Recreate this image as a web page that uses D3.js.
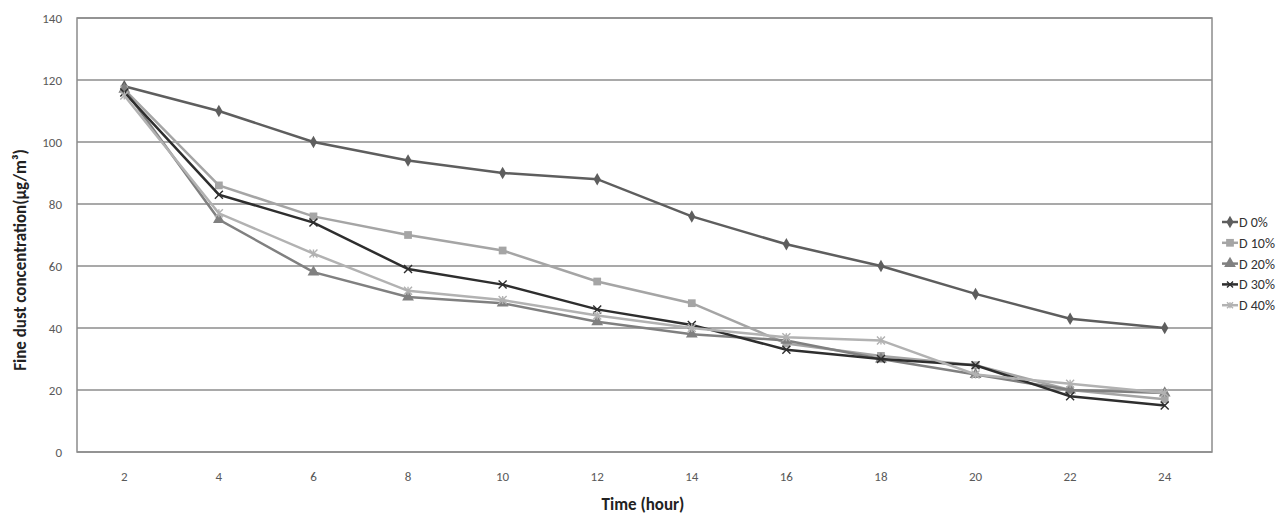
<!DOCTYPE html>
<html>
<head>
<meta charset="utf-8">
<script src="https://cdn.jsdelivr.net/npm/d3@7"></script>
<style>
  body { margin: 0; background: #fff; }
  text { font-family: Calibri, "Liberation Sans", "Open Sans", sans-serif; }
</style>
</head>
<body>
<svg id="chart"></svg>
<script>
// data
var hours = ["2", "4", "6", "8", "10", "12", "14", "16", "18", "20", "22", "24"];
var yTicks = [0, 20, 40, 60, 80, 100, 120, 140];
var seriesNames = ["D 0%", "D 10%", "D 20%", "D 30%", "D 40%"];
var d0 = [118, 110, 100, 94, 90, 88, 76, 67, 60, 51, 43, 40];
var d10 = [117, 86, 76, 70, 65, 55, 48, 35, 31, 28, 20, 17];
var d20 = [117, 75, 58, 50, 48, 42, 38, 36, 30, 25, 20, 19];
var d30 = [116, 83, 74, 59, 54, 46, 41, 33, 30, 28, 18, 15];
var d40 = [115, 77, 64, 52, 49, 44, 40, 37, 36, 25, 22, 19];

var colors = ["#5e5e5e", "#a5a5a5", "#808080", "#2e2e2e", "#b2b2b2"];
var symbols = [d3.symbolDiamond, d3.symbolSquare, d3.symbolTriangle, "x", "star"];
var series = [d0, d10, d20, d30, d40].map(function(v, i) {
    return { name: seriesNames[i], values: v, color: colors[i], symbol: symbols[i] };
});

var chartWidth = 1284, chartHeight = 526;
var plotLeft = 77, plotRight = 1212, plotTop = 18, plotBottom = 452;

var svg = d3.select('#chart')
    .attr('width', chartWidth)
    .attr('height', chartHeight);

var x = d3.scaleBand().domain(hours).range([plotLeft, plotRight]);
var y = d3.scaleLinear().domain([0, 140]).range([plotBottom, plotTop]);

// gridlines
svg.append('g')
    .selectAll('line')
    .data(yTicks)
    .enter().append('line')
    .attr('x1', plotLeft).attr('x2', plotRight)
    .attr('y1', function(d) { return y(d); })
    .attr('y2', function(d) { return y(d); })
    .attr('stroke', '#8c8c8c')
    .attr('stroke-width', 1.5);

// plot frame
svg.append('rect')
    .attr('x', plotLeft).attr('y', plotTop)
    .attr('width', plotRight - plotLeft).attr('height', plotBottom - plotTop)
    .attr('fill', 'none')
    .attr('stroke', '#8c8c8c')
    .attr('stroke-width', 1.5);

// y axis labels
var yAxis = svg.append('g')
    .attr('transform', 'translate(' + plotLeft + ',0)')
    .call(d3.axisLeft(y).tickValues(yTicks).tickSize(0).tickPadding(15));
yAxis.select('.domain').remove();
yAxis.selectAll('text')
    .attr('fill', '#595959')
    .style('font-size', '13px');

// x axis labels
var xAxis = svg.append('g')
    .attr('transform', 'translate(0,' + plotBottom + ')')
    .call(d3.axisBottom(x).tickSize(0).tickPadding(20));
xAxis.select('.domain').remove();
xAxis.selectAll('text')
    .attr('fill', '#595959')
    .style('font-size', '13px');

// axis titles
svg.append('text')
    .attr('x', 643)
    .attr('y', 510)
    .attr('text-anchor', 'middle')
    .style('font-size', '17px')
    .style('font-weight', 'bold')
    .attr('fill', '#222')
    .text('Time (hour)');

svg.append('text')
    .attr('transform', 'translate(26,260) rotate(-90)')
    .attr('text-anchor', 'middle')
    .style('font-size', '17px')
    .style('font-weight', 'bold')
    .attr('fill', '#222')
    .text('Fine dust concentration(\u03BCg/m\u00B3)');

var line = d3.line()
    .x(function(d, i) { return x(hours[i]) + x.bandwidth() / 2; })
    .y(function(d) { return y(d); });

function drawMarker(g, s, size) {
    var r = size;
    if (s.symbol === "x") {
        g.append('path')
            .attr('d', 'M' + (-r) + ',' + (-r) + 'L' + r + ',' + r + 'M' + (-r) + ',' + r + 'L' + r + ',' + (-r))
            .attr('stroke', s.color).attr('stroke-width', 1.4).attr('fill', 'none');
    } else if (s.symbol === "star") {
        g.append('path')
            .attr('d', 'M' + (-r) + ',' + (-r) + 'L' + r + ',' + r + 'M' + (-r) + ',' + r + 'L' + r + ',' + (-r) + 'M0,' + (-r) + 'L0,' + r)
            .attr('stroke', s.color).attr('stroke-width', 1.4).attr('fill', 'none');
    } else {
        var area = s.symbol === d3.symbolDiamond ? 45 : 60;
        g.append('path')
            .attr('d', d3.symbol().type(s.symbol).size(area)())
            .attr('fill', s.color);
    }
}

series.forEach(function(s) {
    var g = svg.append('g');
    g.append('path')
        .datum(s.values)
        .attr('d', line)
        .attr('fill', 'none')
        .attr('stroke', s.color)
        .attr('stroke-width', 2.5);
    s.values.forEach(function(v, i) {
        var m = g.append('g')
            .attr('transform', 'translate(' + (x(hours[i]) + x.bandwidth() / 2) + ',' + y(v) + ')');
        drawMarker(m, s, 4);
    });
});

// legend
var legend = svg.append('g')
    .attr('transform', 'translate(1222,222)');
series.forEach(function(s, i) {
    var row = legend.append('g').attr('transform', 'translate(0,' + (i * 20.8) + ')');
    row.append('line')
        .attr('x1', 0).attr('x2', 16)
        .attr('stroke', s.color).attr('stroke-width', 2.5);
    var m = row.append('g').attr('transform', 'translate(8,0)');
    drawMarker(m, s, 3);
    row.append('text')
        .attr('x', 17).attr('y', 5)
        .style('font-size', '14px')
        .attr('fill', '#333')
        .text(s.name);
});
</script>
</body>
</html>
